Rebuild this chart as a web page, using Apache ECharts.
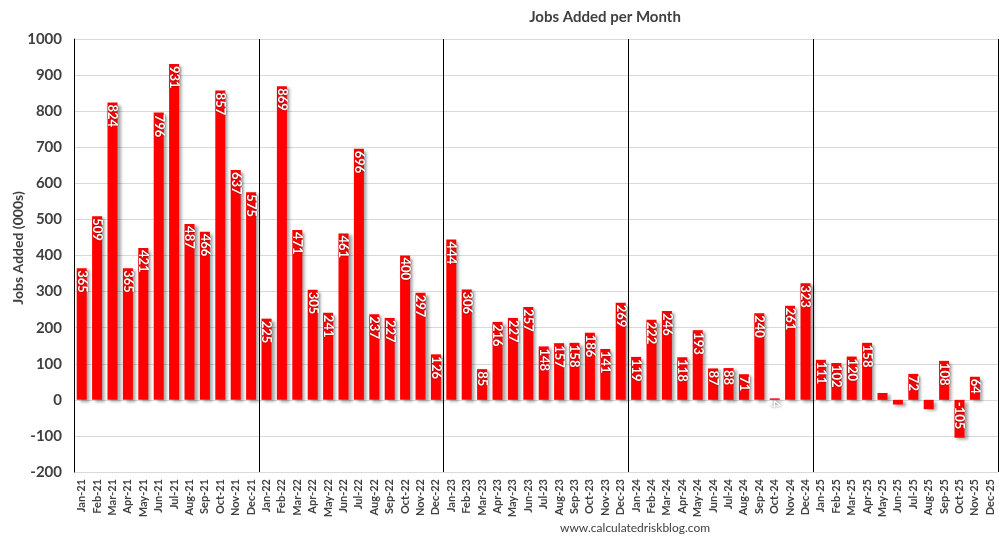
<!DOCTYPE html>
<html>
<head>
<meta charset="utf-8">
<script src="https://cdn.jsdelivr.net/npm/echarts@6/dist/echarts.min.js"></script>
<style>html,body{margin:0;padding:0;background:#fff}#c{width:999px;height:540px}</style>
</head>
<body>
<div id="c"></div>
<script>
const years = ['21','22','23','24','25'];
const months = ['Jan','Feb','Mar','Apr','May','Jun','Jul','Aug','Sep','Oct','Nov','Dec'];
const values2021 = [365, 509, 824, 365, 421, 796, 931, 487, 466, 857, 637, 575];
const values2022 = [225, 869, 471, 305, 241, 461, 696, 237, 227, 400, 297, 126];
const values2023 = [444, 306, 85, 216, 227, 257, 148, 157, 158, 186, 141, 269];
const values2024 = [119, 222, 246, 118, 193, 87, 88, 71, 240, 4, 261, 323];
const values2025 = [111, 102, 120, 158, 19, -13, 72, -26, 108, -105, 64, null];
const hiddenLabels = ['May-25', 'Jun-25', 'Aug-25'];
const yTicks = {min: -200, max: 1000, interval: 100};

const categories = [];
years.forEach(y => months.forEach(m => categories.push(m + '-' + y)));
const allValues = [].concat(values2021, values2022, values2023, values2024, values2025);
const data = allValues.map((v, i) => {
  const item = {value: v};
  if (hiddenLabels.indexOf(categories[i]) >= 0) item.label = {show: false};
  return item;
});

const font = 'Lato, "Open Sans", "Liberation Sans", sans-serif';
const chart = echarts.init(document.getElementById('c'));
chart.setOption({
  animation: false,
  backgroundColor: '#fff',
  title: {
    text: 'Jobs Added per Month',
    left: 600, top: 5, textAlign: 'center',
    textStyle: {fontFamily: font, fontSize: 15, fontWeight: 'bold', color: '#404040'}
  },
  graphic: [{
    type: 'text', left: 560, top: 522,
    style: {text: 'www.calculatedriskblog.com', fontFamily: font, fontSize: 12, fill: '#404040'}
  }, {
    type: 'text', x: 18, y: 248, rotation: Math.PI / 2,
    style: {
      text: 'Jobs Added (000s)', fontFamily: font, fontSize: 14, fontWeight: 'bold', fill: '#404040',
      align: 'center', verticalAlign: 'middle'
    }
  }],
  grid: {left: 74, right: 1, top: 39, bottom: 68, containLabel: false, outerBoundsMode: 'none'},
  xAxis: {
    type: 'category',
    data: categories,
    axisLine: {show: false},
    axisTick: {show: false},
    axisLabel: {
      rotate: 90, interval: 0, margin: 7,
      fontFamily: font, fontSize: 11, fontWeight: 'bold', color: '#404040'
    },
    splitLine: {
      show: true,
      interval: function (i) { return i % 12 === 0 && i > 0; },
      lineStyle: {color: '#000', width: 1}
    }
  },
  yAxis: {
    type: 'value',
    min: yTicks.min, max: yTicks.max, interval: yTicks.interval,
    axisLine: {show: true, lineStyle: {color: '#000'}},
    axisTick: {show: false},
    axisLabel: {
      formatter: function (v) { return String(v); },
      fontFamily: font, fontSize: 15, fontWeight: 'bold', color: '#404040', margin: 12
    },
    splitLine: {lineStyle: {color: '#d9d9d9'}}
  },
  series: [{
    type: 'bar',
    data: data,
    barCategoryGap: '35%',
    itemStyle: {
      color: '#ff0000',
      shadowColor: 'rgba(0,0,0,0.35)', shadowBlur: 3, shadowOffsetX: 3, shadowOffsetY: 2
    },
    label: {
      show: true, position: 'insideTop', rotate: -90, distance: 2,
      align: 'left', verticalAlign: 'middle',
      fontFamily: font, fontSize: 13, fontWeight: 'bold', color: '#fff',
      textShadowColor: 'rgba(0,0,0,0.6)', textShadowBlur: 2
    }
  }]
});
</script>
</body>
</html>
